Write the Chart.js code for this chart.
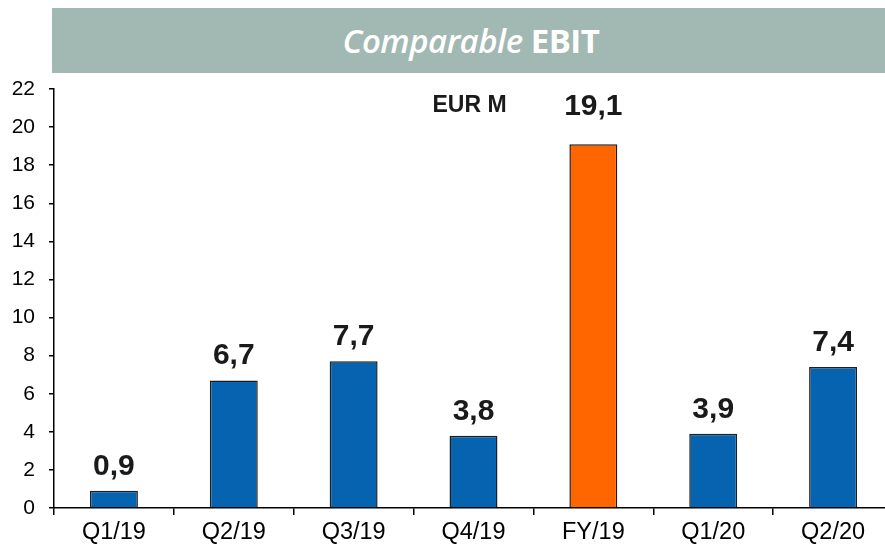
<!DOCTYPE html>
<html>
<head>
<meta charset="utf-8">
<script src="https://cdn.jsdelivr.net/npm/chart.js@4/dist/chart.umd.min.js"></script>
<style>
  html, body { margin: 0; padding: 0; background: #fff; overflow: hidden; }
  #wrap { position: relative; width: 885px; height: 545px; overflow: hidden; }
  #banner {
    position: absolute; left: 52px; top: 8px; width: 838px; height: 65px;
    background: #a2b8b2; color: #fff;
    font-family: "Open Sans", sans-serif; font-size: 33px;
    line-height: 65px; text-align: center; letter-spacing: -0.5px;
  }
  #banner i { font-style: italic; font-weight: 600; }
  #banner b { font-weight: 700; }
  #box { position: absolute; left: 0; top: 0; width: 893px; height: 545px; }
</style>
</head>
<body>
<div id="wrap">
  <div id="box"><canvas id="myChart" width="893" height="545"></canvas></div>
  <div id="banner"><i>Comparable</i> <b>EBIT</b></div>
</div>
<script>
  // Data
  const categories = ["Q1/19", "Q2/19", "Q3/19", "Q4/19", "FY/19", "Q1/20", "Q2/20"];
  const ebitValues = [0.9, 6.7, 7.7, 3.8, 19.1, 3.9, 7.4];
  const barColors = ["#0563af", "#0563af", "#0563af", "#0563af", "#ff6600", "#0563af", "#0563af"];
  const unitLabel = "EUR M";

  const FONT = "'Liberation Sans', Arial, sans-serif";

  // value labels above bars, plus the unit note
  const barLabels = {
    id: "barLabels",
    afterDatasetsDraw(chart) {
      const ctx = chart.ctx;
      const meta = chart.getDatasetMeta(0);
      ctx.save();
      ctx.fillStyle = "#1a1a1a";
      ctx.textAlign = "center";
      ctx.textBaseline = "alphabetic";
      ctx.font = "bold 30px " + FONT;
      meta.data.forEach((bar, i) => {
        const txt = ebitValues[i].toFixed(1).replace(".", ",");
        // the tall FY bar has its label lifted a bit more in the original
        const gap = ebitValues[i] > 15 ? 29 : 16;
        ctx.fillText(txt, bar.x, bar.y - gap);
      });
      ctx.font = "bold 23px " + FONT;
      const x = chart.scales.x.getPixelForValue(3);
      const y = chart.scales.y.getPixelForValue(20.8);
      ctx.fillText(unitLabel, x - 4, y);
      ctx.restore();
    },
  };

  const ctx = document.getElementById("myChart");
  const myChart = new Chart(ctx, {
    type: "bar",
    data: {
      labels: categories,
      datasets: [
        {
          data: ebitValues,
          backgroundColor: barColors,
          borderColor: "#1e1e1e",
          borderWidth: 1.5,
          borderSkipped: "bottom",
          barPercentage: 0.4,
          categoryPercentage: 1,
        },
      ],
    },
    options: {
      responsive: false,
      animation: false,
      layout: { padding: { top: 89, right: 0, left: 0, bottom: 0 } },
      plugins: {
        legend: { display: false },
        tooltip: { enabled: false },
      },
      scales: {
        x: {
          afterFit(scale) { scale.height = 37; },
          border: { color: "#000", width: 1.5 },
          grid: { offset: true, drawOnChartArea: false, drawTicks: true, tickLength: 7, color: "#000", lineWidth: 1.5 },
          ticks: {
            color: "#000",
            padding: 3,
            font: { family: FONT, size: 23.5 },
          },
        },
        y: {
          min: 0,
          max: 22,
          afterFit(scale) { scale.width = 54; },
          border: { color: "#000", width: 1.5 },
          grid: { drawOnChartArea: false, drawTicks: true, tickLength: 5, color: "#000", lineWidth: 1.5 },
          ticks: {
            stepSize: 2,
            color: "#000",
            padding: 14,
            font: { family: FONT, size: 21 },
          },
        },
      },
    },
    plugins: [barLabels],
  });
</script>
</body>
</html>
